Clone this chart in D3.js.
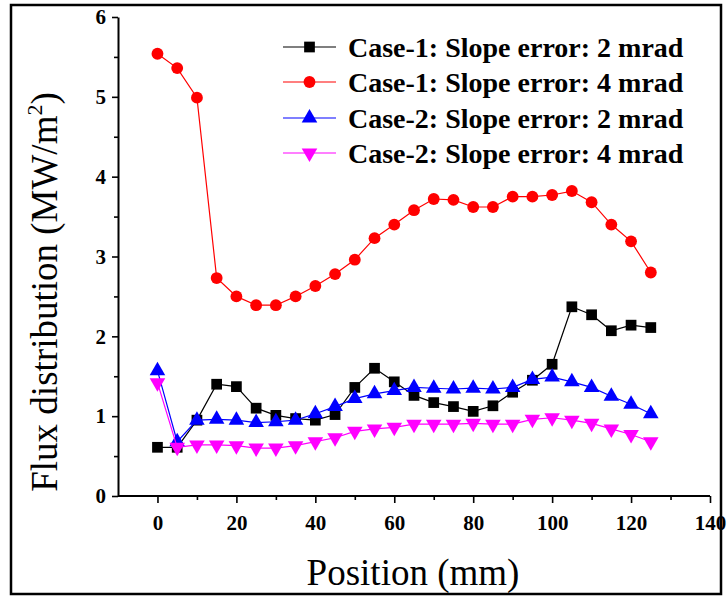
<!DOCTYPE html>
<html><head><meta charset="utf-8">
<script src="https://cdn.jsdelivr.net/npm/d3@7"></script>
<style>body{margin:0;background:#fff}svg{display:block}
svg text{font-family:"Liberation Serif","Tinos","Times New Roman","DejaVu Serif",serif;}
</style>
</head><body>
<svg id="c" width="728" height="599"></svg>
<script>
const positions = [0,5,10,15,20,25,30,35,40,45,50,55,60,65,70,75,80,85,90,95,100,105,110,115,120,125];
const case1_2mrad = [0.61,0.61,0.95,1.40,1.37,1.10,1.01,0.97,0.95,1.02,1.36,1.60,1.43,1.26,1.17,1.12,1.06,1.13,1.30,1.45,1.65,2.37,2.27,2.07,2.14,2.11];
const case1_4mrad = [5.54,5.36,4.99,2.73,2.50,2.39,2.39,2.50,2.63,2.78,2.96,3.23,3.40,3.58,3.72,3.71,3.62,3.62,3.75,3.75,3.77,3.82,3.68,3.40,3.19,2.80];
const case2_2mrad = [1.57,0.68,0.95,0.96,0.95,0.92,0.93,0.95,1.03,1.12,1.22,1.28,1.32,1.36,1.35,1.34,1.35,1.34,1.36,1.46,1.49,1.43,1.36,1.25,1.15,1.03];
const case2_4mrad = [1.42,0.61,0.64,0.64,0.63,0.60,0.60,0.63,0.68,0.73,0.81,0.84,0.86,0.90,0.90,0.90,0.91,0.90,0.90,0.96,0.98,0.95,0.91,0.84,0.77,0.68];
const seriesNames = ["Case-1: Slope error: 2 mrad","Case-1: Slope error: 4 mrad","Case-2: Slope error: 2 mrad","Case-2: Slope error: 4 mrad"];
const seriesColors = ["#000000","#ff0000","#0000ff","#ff00ff"];
const seriesSymbols = ["square","circle","triangleUp","triangleDown"];
const xTicks = [0,20,40,60,80,100,120,140];
const yTicks = [0,1,2,3,4,5,6];
const xLabel = "Position (mm)";

const svg = d3.select("#c");
const x = d3.scaleLinear().domain([-10,140]).range([118,710]);
const y = d3.scaleLinear().domain([0,6]).range([496,17]);

// outer frame
svg.append("rect").attr("x",11).attr("y",5).attr("width",710).attr("height",589)
  .attr("fill","none").attr("stroke","#000").attr("stroke-width",2.5);

// x axis
const xAxis = svg.append("g").attr("transform","translate(0,496)")
  .call(d3.axisBottom(x).tickValues(xTicks).tickFormat(d3.format("d")).tickSize(7).tickSizeOuter(0).tickPadding(9));
svg.append("g").attr("transform","translate(0,496)")
  .call(d3.axisBottom(x).tickValues(d3.range(10,140,20)).tickSize(4).tickFormat("").tickSizeOuter(0))
  .select(".domain").remove();
xAxis.select(".domain").attr("d",`M${x(-10)},0H${x(140)}`).attr("stroke-width",2);
xAxis.selectAll("text").attr("font-weight","bold").attr("font-size",21).attr("fill","#000").attr("dy","0.88em");

// y axis
const yAxis = svg.append("g").attr("transform",`translate(${x(-10)},0)`)
  .call(d3.axisLeft(y).tickValues(yTicks).tickFormat(d3.format("d")).tickSize(6).tickSizeOuter(0).tickPadding(6));
svg.append("g").attr("transform",`translate(${x(-10)},0)`)
  .call(d3.axisLeft(y).tickValues(d3.range(0.5,6,1)).tickSize(4).tickFormat("").tickSizeOuter(0))
  .select(".domain").remove();
yAxis.select(".domain").attr("stroke-width",2);
yAxis.selectAll("text").attr("font-weight","bold").attr("font-size",21).attr("fill","#000");
svg.selectAll(".tick line").attr("stroke-width",1.6);
svg.selectAll("g").attr("font-family",null);

// axis titles
svg.append("text").attr("x",413).attr("y",585).attr("text-anchor","middle")
  .attr("font-size",37).text(xLabel);
const yt = svg.append("text").attr("transform","translate(57,292) rotate(-90)").attr("text-anchor","middle")
  .attr("font-size",37);
yt.append("tspan").text("Flux distribution (MW/m");
yt.append("tspan").attr("font-size",22).attr("dy",-15).text("2");
yt.append("tspan").attr("dy",15).text(")");

const data = [case1_2mrad, case1_4mrad, case2_2mrad, case2_4mrad];
const symMap = {square:d3.symbolSquare, circle:d3.symbolCircle, triangleUp:d3.symbolTriangle, triangleDown:d3.symbolTriangle};
const symSize = {square:115, circle:110, triangleUp:105, triangleDown:105};
function symPath(s){ return d3.symbol().type(symMap[s]).size(symSize[s])(); }
function symTransform(s,cx,cy){ return `translate(${cx},${cy})` + (s==="triangleDown"?" rotate(180)":""); }

const line = d3.line().x((d,i)=>x(positions[i])).y(d=>y(d));
data.forEach((vals,k)=>{
  const g = svg.append("g");
  g.append("path").attr("d",line(vals)).attr("fill","none").attr("stroke",seriesColors[k]).attr("stroke-width",1.2);
  g.selectAll("path.m").data(vals).enter().append("path").attr("class","m")
    .attr("d",symPath(seriesSymbols[k]))
    .attr("transform",(d,i)=>symTransform(seriesSymbols[k],x(positions[i]),y(d)))
    .attr("fill",seriesColors[k]);
});

// legend
const legY = [47,82,118,153];
seriesNames.forEach((name,k)=>{
  const g = svg.append("g");
  g.append("line").attr("x1",283).attr("x2",336).attr("y1",legY[k]).attr("y2",legY[k]).attr("stroke",seriesColors[k]).attr("stroke-width",1.2);
  g.append("path").attr("d",symPath(seriesSymbols[k])).attr("transform",symTransform(seriesSymbols[k],309.5,legY[k])).attr("fill",seriesColors[k]);
  g.append("text").attr("x",348).attr("y",legY[k]).attr("dy","0.35em")
    .attr("font-weight","bold").attr("font-size",28).attr("fill","#000").text(name);
});
</script>
</body></html>
